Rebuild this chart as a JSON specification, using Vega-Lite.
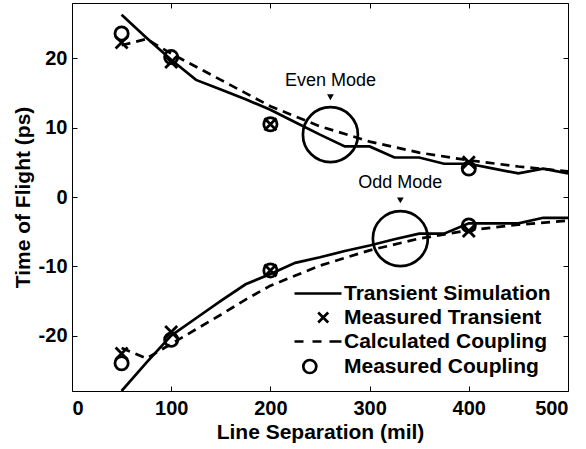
{
  "$schema": "https://vega.github.io/schema/vega-lite/v6.json",
  "width": 496,
  "height": 388,
  "autosize": {"type": "none"},
  "padding": {"left": 72, "top": 3, "right": 18, "bottom": 58},
  "config": {
    "view": {"stroke": "black", "strokeWidth": 1},
    "font": "Liberation Sans",
    "axis": {"grid": false, "domain": false, "tickColor": "black", "tickSize": -5, "tickWidth": 1, "labelColor": "black", "labelFont": "Liberation Sans", "labelFontSize": 20, "labelFontWeight": "bold", "titleColor": "black", "titleFont": "Liberation Sans", "titleFontSize": 21, "titleFontWeight": "bold"}
  },
  "datasets": {
    "sim": [
      {"sep": 50, "tof": 26.3, "mode": "even"}, {"sep": 75, "tof": 23.0, "mode": "even"}, {"sep": 100, "tof": 19.8, "mode": "even"}, {"sep": 125, "tof": 16.9, "mode": "even"}, {"sep": 150, "tof": 15.5, "mode": "even"}, {"sep": 175, "tof": 14.1, "mode": "even"}, {"sep": 200, "tof": 12.6, "mode": "even"}, {"sep": 225, "tof": 10.8, "mode": "even"}, {"sep": 250, "tof": 9.0, "mode": "even"}, {"sep": 275, "tof": 7.3, "mode": "even"}, {"sep": 300, "tof": 7.3, "mode": "even"}, {"sep": 325, "tof": 5.7, "mode": "even"}, {"sep": 350, "tof": 5.7, "mode": "even"}, {"sep": 375, "tof": 4.8, "mode": "even"}, {"sep": 400, "tof": 4.8, "mode": "even"}, {"sep": 425, "tof": 4.1, "mode": "even"}, {"sep": 450, "tof": 3.4, "mode": "even"}, {"sep": 475, "tof": 4.1, "mode": "even"}, {"sep": 500, "tof": 3.4, "mode": "even"},
      {"sep": 50, "tof": -28.0, "mode": "odd"}, {"sep": 75, "tof": -23.9, "mode": "odd"}, {"sep": 100, "tof": -20.0, "mode": "odd"}, {"sep": 125, "tof": -17.5, "mode": "odd"}, {"sep": 150, "tof": -15.0, "mode": "odd"}, {"sep": 175, "tof": -12.6, "mode": "odd"}, {"sep": 200, "tof": -11.1, "mode": "odd"}, {"sep": 225, "tof": -9.5, "mode": "odd"}, {"sep": 250, "tof": -8.7, "mode": "odd"}, {"sep": 275, "tof": -7.8, "mode": "odd"}, {"sep": 300, "tof": -7.0, "mode": "odd"}, {"sep": 325, "tof": -6.1, "mode": "odd"}, {"sep": 350, "tof": -5.3, "mode": "odd"}, {"sep": 375, "tof": -5.3, "mode": "odd"}, {"sep": 400, "tof": -3.8, "mode": "odd"}, {"sep": 425, "tof": -3.8, "mode": "odd"}, {"sep": 450, "tof": -3.8, "mode": "odd"}, {"sep": 475, "tof": -3.0, "mode": "odd"}, {"sep": 500, "tof": -3.0, "mode": "odd"}
    ],
    "calc": [
      {"sep": 50, "tof": 21.9, "mode": "even"}, {"sep": 75, "tof": 22.8, "mode": "even"}, {"sep": 100, "tof": 20.7, "mode": "even"}, {"sep": 125, "tof": 18.8, "mode": "even"}, {"sep": 150, "tof": 16.9, "mode": "even"}, {"sep": 175, "tof": 15.0, "mode": "even"}, {"sep": 200, "tof": 13.1, "mode": "even"}, {"sep": 250, "tof": 10.2, "mode": "even"}, {"sep": 300, "tof": 8.0, "mode": "even"}, {"sep": 350, "tof": 6.4, "mode": "even"}, {"sep": 400, "tof": 5.3, "mode": "even"}, {"sep": 450, "tof": 4.4, "mode": "even"}, {"sep": 500, "tof": 3.7, "mode": "even"},
      {"sep": 50, "tof": -21.8, "mode": "odd"}, {"sep": 75, "tof": -23.3, "mode": "odd"}, {"sep": 100, "tof": -21.2, "mode": "odd"}, {"sep": 125, "tof": -19.1, "mode": "odd"}, {"sep": 150, "tof": -17.0, "mode": "odd"}, {"sep": 175, "tof": -14.8, "mode": "odd"}, {"sep": 200, "tof": -12.8, "mode": "odd"}, {"sep": 250, "tof": -9.9, "mode": "odd"}, {"sep": 300, "tof": -7.7, "mode": "odd"}, {"sep": 350, "tof": -6.0, "mode": "odd"}, {"sep": 400, "tof": -4.8, "mode": "odd"}, {"sep": 450, "tof": -4.0, "mode": "odd"}, {"sep": 500, "tof": -3.4, "mode": "odd"}
    ],
    "transient": [
      {"sep": 50, "tof": 22.3}, {"sep": 100, "tof": 19.5}, {"sep": 200, "tof": 10.5}, {"sep": 400, "tof": 5.0},
      {"sep": 50, "tof": -22.6}, {"sep": 100, "tof": -19.5}, {"sep": 200, "tof": -10.6}, {"sep": 400, "tof": -4.9}
    ],
    "coupling": [
      {"sep": 50, "tof": 23.6}, {"sep": 100, "tof": 20.2}, {"sep": 200, "tof": 10.5}, {"sep": 400, "tof": 4.1},
      {"sep": 50, "tof": -24.0}, {"sep": 100, "tof": -20.6}, {"sep": 200, "tof": -10.6}, {"sep": 400, "tof": -4.1}
    ],
    "annotations": [
      {"label": "Even Mode", "sep": 260.5, "circle": 9.0, "arrow": 14.4, "text": 16.8},
      {"label": "Odd Mode", "sep": 331, "circle": -6.0, "arrow": -0.5, "text": 2.0}
    ],
    "legendItems": [
      {"series": "Transient Simulation"}, {"series": "Measured Transient"}, {"series": "Calculated Coupling"}, {"series": "Measured Coupling"}
    ]
  },
  "layer": [
    {
      "data": {"name": "sim"},
      "mark": {"type": "line", "color": "black", "strokeWidth": 2.7, "clip": true},
      "encoding": {
        "x": {"field": "sep", "type": "quantitative", "scale": {"domain": [0, 500], "nice": false}, "axis": {"orient": "bottom", "values": [0, 100, 200, 300, 400, 500], "title": "Line Separation (mil)", "labelPadding": 12, "titlePadding": 3}},
        "y": {"field": "tof", "type": "quantitative", "scale": {"domain": [-28, 28], "nice": false, "zero": false}, "axis": {"orient": "left", "values": [-20, -10, 0, 10, 20], "labelExpr": "datum.value < 0 ? '-' + (-datum.value) : '' + datum.value", "title": "Time of Flight (ps)", "labelPadding": 10, "titlePadding": 5}},
        "detail": {"field": "mode"}
      }
    },
    {
      "data": {"name": "calc"},
      "mark": {"type": "line", "color": "black", "strokeWidth": 2.7, "strokeDash": [9, 6], "clip": true},
      "encoding": {
        "x": {"field": "sep", "type": "quantitative", "axis": {"orient": "top", "values": [0, 100, 200, 300, 400, 500], "labels": false, "title": null}},
        "y": {"field": "tof", "type": "quantitative", "axis": {"orient": "right", "values": [-20, -10, 0, 10, 20], "labels": false, "title": null}},
        "detail": {"field": "mode"}
      }
    },
    {
      "data": {"name": "transient"},
      "mark": {"type": "point", "shape": "M-1,-1L1,1M-1,1L1,-1", "filled": false, "color": "black", "strokeWidth": 2.8, "size": 144, "opacity": 1},
      "encoding": {
        "x": {"field": "sep", "type": "quantitative", "axis": null},
        "y": {"field": "tof", "type": "quantitative", "axis": null}
      }
    },
    {
      "data": {"name": "coupling"},
      "mark": {"type": "point", "shape": "circle", "filled": false, "color": "black", "strokeWidth": 2.8, "size": 175, "opacity": 1},
      "encoding": {
        "x": {"field": "sep", "type": "quantitative", "axis": null},
        "y": {"field": "tof", "type": "quantitative", "axis": null}
      }
    },
    {
      "data": {"name": "annotations"},
      "mark": {"type": "point", "shape": "circle", "filled": false, "color": "black", "strokeWidth": 2.7, "size": 3019, "opacity": 1},
      "encoding": {
        "x": {"field": "sep", "type": "quantitative", "axis": null},
        "y": {"field": "circle", "type": "quantitative", "axis": null}
      }
    },
    {
      "data": {"name": "annotations"},
      "mark": {"type": "point", "shape": "triangle-down", "filled": true, "color": "black", "size": 45, "opacity": 1},
      "encoding": {
        "x": {"field": "sep", "type": "quantitative", "axis": null},
        "y": {"field": "arrow", "type": "quantitative", "axis": null}
      }
    },
    {
      "data": {"name": "annotations"},
      "mark": {"type": "text", "font": "Liberation Sans", "fontSize": 18, "color": "black", "align": "center", "baseline": "middle"},
      "encoding": {
        "x": {"field": "sep", "type": "quantitative", "axis": null},
        "y": {"field": "text", "type": "quantitative", "axis": null},
        "text": {"field": "label"}
      }
    },
    {
      "data": {"name": "legendItems"},
      "mark": {"type": "point", "filled": false, "color": "black", "strokeWidth": 2.7, "opacity": 0},
      "encoding": {
        "shape": {
          "field": "series", "type": "nominal",
          "scale": {
            "domain": ["Transient Simulation", "Measured Transient", "Calculated Coupling", "Measured Coupling"],
            "range": ["M-1.2,0L8.2,0", "M3.54,-1L5.54,1M3.54,1L5.54,-1", "M-1.2,0L0.6,0M2.4,0L4.2,0M5.8,0L8.2,0", "M3.16,0A1.3,1.3,0,1,1,0.56,0A1.3,1.3,0,1,1,3.16,0Z"]
          },
          "legend": {
            "orient": "none", "legendX": 218, "legendY": 280, "title": null,
            "symbolSize": 100, "symbolStrokeWidth": 2.7, "symbolOpacity": 1, "symbolStrokeColor": "black", "symbolFillColor": "transparent",
            "labelOffset": 33, "labelFont": "Liberation Sans", "labelFontSize": 21, "labelFontWeight": "bold", "labelColor": "black", "rowPadding": 2, "labelLimit": 400
          }
        }
      }
    }
  ]
}
